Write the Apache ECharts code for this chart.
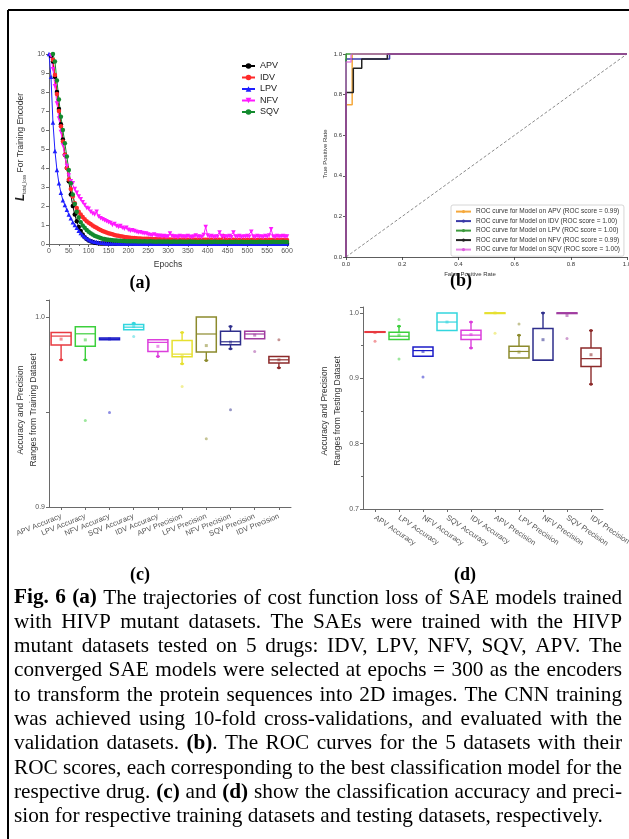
<!DOCTYPE html>
<html><head><meta charset="utf-8">
<script src="https://cdn.jsdelivr.net/npm/echarts@6/dist/echarts.min.js"></script>
<style>html,body{margin:0;padding:0;background:#fff}#c{width:629px;height:839px}</style>
</head><body><div id="c"></div><script>
// ---------- (a) loss trajectories ----------
const epochs = [
0,5,10,15,20,25,30,35,40,45,
50,55,60,65,70,75,80,85,90,95,
100,105,110,115,120,125,130,135,140,145,
150,155,160,165,170,175,180,185,190,195,
200,205,210,215,220,225,230,235,240,245,
250,255,260,265,270,275,280,285,290,295,
300,305,310,315,320,325,330,335,340,345,
350,355,360,365,370,375,380,385,390,395,
400,405,410,415,420,425,430,435,440,445,
450,455,460,465,470,475,480,485,490,495,
500,505,510,515,520,525,530,535,540,545,
550,555,560,565,570,575,580,585,590,595,
600];
const lossAPV = [
10.5,9.9,9.6,8.8,8.0,7.1,6.3,5.5,4.7,4.0,
3.3,2.6,2.0,1.55,1.2,0.9,0.68,0.5,0.36,0.26,
0.19,0.14,0.1,0.07,0.05,0.04,0.03,0.025,0.02,0.02,
0.02,0.018,0.02,0.017,0.018,0.02,0.017,0.018,0.016,0.018,
0.017,0.016,0.018,0.016,0.017,0.016,0.018,0.016,0.016,0.017,
0.016,0.017,0.016,0.015,0.016,0.017,0.015,0.016,0.016,0.015,
0.016,0.015,0.016,0.015,0.015,0.016,0.015,0.015,0.016,0.015,
0.015,0.016,0.015,0.015,0.014,0.015,0.015,0.016,0.015,0.014,
0.015,0.014,0.015,0.015,0.014,0.015,0.014,0.015,0.014,0.014,
0.015,0.014,0.014,0.015,0.014,0.014,0.015,0.014,0.014,0.014,
0.014,0.015,0.014,0.014,0.014,0.013,0.014,0.014,0.013,0.014,
0.014,0.013,0.014,0.014,0.013,0.014,0.013,0.014,0.013,0.013,
0.013];
const lossIDV = [
11,10.2,9.7,8.9,7.9,7.0,6.2,5.4,4.7,4.0,
3.4,2.9,2.5,2.15,1.9,1.7,1.55,1.42,1.3,1.2,
1.12,1.05,0.98,0.91,0.85,0.79,0.74,0.69,0.65,0.61,
0.57,0.54,0.51,0.48,0.45,0.43,0.41,0.39,0.37,0.35,
0.34,0.33,0.32,0.31,0.3,0.29,0.29,0.28,0.28,0.27,
0.27,0.26,0.26,0.25,0.26,0.25,0.25,0.24,0.25,0.24,
0.24,0.24,0.23,0.24,0.23,0.24,0.23,0.23,0.24,0.23,
0.23,0.22,0.23,0.23,0.22,0.23,0.22,0.23,0.22,0.22,
0.23,0.22,0.22,0.23,0.22,0.22,0.22,0.21,0.42,0.22,
0.22,0.21,0.22,0.22,0.21,0.22,0.21,0.22,0.21,0.21,
0.22,0.21,0.21,0.22,0.21,0.21,0.22,0.21,0.21,0.21,
0.21,0.22,0.21,0.21,0.21,0.22,0.21,0.21,0.21,0.21,
0.21];
const lossLPV = [
10,8.8,6.4,4.9,3.9,3.2,2.7,2.3,2.05,1.8,
1.55,1.35,1.15,1.0,0.85,0.7,0.58,0.47,0.38,0.3,
0.24,0.19,0.15,0.12,0.1,0.08,0.07,0.06,0.05,0.045,
0.04,0.04,0.035,0.04,0.035,0.03,0.035,0.03,0.03,0.035,
0.03,0.03,0.035,0.03,0.03,0.025,0.03,0.03,0.025,0.03,
0.03,0.025,0.03,0.03,0.025,0.03,0.025,0.03,0.025,0.025,
0.03,0.025,0.025,0.03,0.025,0.025,0.03,0.025,0.025,0.02,
0.025,0.025,0.02,0.025,0.025,0.02,0.025,0.02,0.025,0.02,
0.025,0.02,0.02,0.025,0.02,0.02,0.025,0.02,0.02,0.02,
0.02,0.025,0.02,0.02,0.02,0.025,0.02,0.02,0.02,0.02,
0.02,0.02,0.025,0.02,0.02,0.02,0.02,0.025,0.02,0.02,
0.02,0.02,0.02,0.025,0.02,0.02,0.02,0.02,0.02,0.025,
0.02];
const lossNFV = [
10.5,9.9,9.2,8.3,7.4,6.6,5.9,5.2,4.6,4.1,
3.6,3.3,3.2,2.9,2.7,2.5,2.35,2.2,2.05,1.9,
1.85,1.7,1.6,1.55,1.7,1.45,1.35,1.3,1.25,1.2,
1.15,1.1,1.0,1.05,0.95,0.9,0.95,0.85,0.8,0.85,
0.75,0.7,0.72,0.68,0.65,0.6,0.62,0.58,0.55,0.55,
0.5,0.48,0.45,0.5,0.45,0.42,0.44,0.4,0.42,0.38,
0.4,0.55,0.42,0.38,0.4,0.36,0.42,0.38,0.4,0.37,
0.42,0.38,0.36,0.4,0.45,0.38,0.4,0.36,0.48,0.9,
0.45,0.38,0.42,0.36,0.4,0.38,0.6,0.42,0.37,0.4,
0.38,0.42,0.36,0.6,0.4,0.38,0.42,0.36,0.4,0.38,
0.42,0.38,0.65,0.4,0.36,0.42,0.38,0.4,0.36,0.42,
0.38,0.45,0.78,0.4,0.36,0.42,0.38,0.4,0.42,0.38,
0.4];
const lossSQV = [
11.5,10.8,10.0,9.6,8.6,7.6,6.7,6.0,5.3,4.6,
3.9,3.2,2.6,2.1,1.7,1.4,1.15,0.98,0.85,0.74,
0.65,0.57,0.5,0.44,0.39,0.35,0.31,0.28,0.26,0.24,
0.22,0.21,0.2,0.19,0.18,0.17,0.17,0.16,0.16,0.15,
0.15,0.14,0.15,0.14,0.14,0.13,0.14,0.13,0.14,0.13,
0.13,0.14,0.13,0.13,0.12,0.13,0.13,0.12,0.13,0.12,
0.13,0.12,0.12,0.13,0.12,0.12,0.13,0.12,0.12,0.12,
0.12,0.13,0.12,0.12,0.12,0.11,0.12,0.12,0.12,0.11,
0.12,0.12,0.11,0.12,0.12,0.11,0.12,0.11,0.12,0.11,
0.11,0.12,0.11,0.11,0.12,0.11,0.11,0.12,0.11,0.11,
0.11,0.11,0.12,0.11,0.11,0.11,0.12,0.11,0.11,0.11,
0.11,0.11,0.11,0.12,0.11,0.11,0.11,0.11,0.12,0.11,
0.11];
const lossNames = ['APV','IDV','LPV','NFV','SQV'];

// ---------- (b) ROC ----------
const rocNames = [
 'ROC curve for Model on APV (ROC score = 0.99)',
 'ROC curve for Model on IDV (ROC score = 1.00)',
 'ROC curve for Model on LPV (ROC score = 1.00)',
 'ROC curve for Model on NFV (ROC score = 0.99)',
 'ROC curve for Model on SQV (ROC score = 1.00)'];
const rocFprAPV = [0,0,0.022,0.022,1];
const rocTprAPV = [0,0.75,0.75,1,1];
const rocFprIDV = [0,0,0.155,0.155,1];
const rocTprIDV = [0,0.975,0.975,1,1];
const rocFprLPV = [0,0,1];
const rocTprLPV = [0,1,1];
const rocFprNFV = [0,0,0.026,0.026,0.056,0.056,0.147,0.147,1];
const rocTprNFV = [0,0.81,0.81,0.93,0.93,0.975,0.975,1,1];
const rocFprSQV = [0,0,0.018,0.018,1];
const rocTprSQV = [0,0.96,0.96,1,1];
const diagFpr = [0,1];
const diagTpr = [0,1];

// ---------- (c)/(d) box plots ----------
const boxCategories = ['APV Accuracy','LPV Accuracy','NFV Accuracy','SQV Accuracy','IDV Accuracy',
  'APV Precision','LPV Precision','NFV Precision','SQV Precision','IDV Precision'];
const trainMin  = [0.9775,0.9775,0.9880,0.9933,0.9793,0.9754,0.9772,0.9833,0.9886,0.9733];
const trainQ1   = [0.9853,0.9846,0.9881,0.9933,0.9819,0.9791,0.9816,0.9854,0.9886,0.9758];
const trainMed  = [0.9900,0.9912,0.9885,0.9947,0.9867,0.9805,0.9911,0.9870,0.9911,0.9775];
const trainQ3   = [0.9919,0.9949,0.9890,0.9961,0.9881,0.9877,1.0000,0.9926,0.9925,0.9793];
const trainMax  = [0.9919,0.9949,0.9890,0.9968,0.9881,0.9919,1.0000,0.9951,0.9925,0.9793];
const trainMean = [0.9884,0.9880,0.9885,0.9950,0.9846,0.9795,0.9850,0.9868,0.9905,0.9775];
const trainOutCat = [1,2,3,5,6,7,8,9];
const trainOutVal = [0.9456,0.9498,0.9898,0.9635,0.9360,0.9512,0.9819,0.9881];

const testMin  = [0.9700,0.9592,0.9337,0.9730,0.9464,1.0000,0.9310,0.9276,0.9990,0.8910];
const testQ1   = [0.9703,0.9592,0.9337,0.9730,0.9592,1.0000,0.9310,0.9276,0.9990,0.9180];
const testMed  = [0.9709,0.9643,0.9423,0.9860,0.9660,1.0000,0.9410,0.9276,1.0000,0.9300];
const testQ3   = [0.9712,0.9704,0.9480,1.0000,0.9735,1.0000,0.9490,0.9760,1.0000,0.9464];
const testMax  = [0.9715,0.9796,0.9480,1.0000,0.9860,1.0000,0.9658,1.0000,1.0000,0.9730];
const testMean = [0.9700,0.9660,0.9410,0.9860,0.9668,1.0000,0.9400,0.9590,0.9960,0.9360];
const testOutCat = [0,1,1,2,5,6,8];
const testOutVal = [0.9566,0.9898,0.9296,0.9020,0.9690,0.9830,0.9610];

const boxColors = ['#e83a40','#3ccf3c','#1c1cc8','#33d6de','#dc3edc','#e6e030','#8c8a2c','#2e2e8c','#a03ca0','#8c2a2a'];

// ---------- caption ----------
const captionLines = [
 '^Fig.^ ^6^ ^(a)^ The trajectories of cost function loss of SAE models trained',
 'with HIVP mutant datasets. The SAEs were trained with the HIVP',
 'mutant datasets tested on 5 drugs: IDV, LPV, NFV, SQV, APV. The',
 'converged SAE models were selected at epochs = 300 as the encoders',
 'to transform the protein sequences into 2D images. The CNN training',
 'was achieved using 10-fold cross-validations, and evaluated with the',
 'validation datasets. ^(b)^. The ROC curves for the 5 datasets with their',
 'ROC scores, each corresponding to the best classification model for the',
 'respective drug. ^(c)^ and ^(d)^ show the classification accuracy and preci-',
 'sion for respective training datasets and testing datasets, respectively.'
];

const SANS = 'Liberation Sans';
const SERIF = 'Liberation Serif';

// ---------- build ----------
const chart = echarts.init(document.getElementById('c'), null, {renderer:'canvas'});

const lossColors = {APV:'#000000', IDV:'#ff2a2a', LPV:'#1f1fff', NFV:'#ff1aff', SQV:'#138a2e'};
const lossSymbols = {APV:'circle', IDV:'circle', LPV:'triangle', NFV:'path://M0,0 L10,0 L5,9 Z', SQV:'circle'};
const lossData = {APV:lossAPV, IDV:lossIDV, LPV:lossLPV, NFV:lossNFV, SQV:lossSQV};
const lossSeries = lossNames.map(n => ({
  type:'line', name:n, xAxisIndex:0, yAxisIndex:0,
  data: epochs.map((e,i)=>[e, lossData[n][i]]),
  symbol: lossSymbols[n], symbolSize: 4.5, showSymbol:true,
  lineStyle:{color:lossColors[n], width:1}, itemStyle:{color:lossColors[n]},
  clip:true
}));

const rocColors = ['#f5a83c','#3a3aa8','#3c9a3c','#222222','#dc5adc'];
const rocF = [rocFprAPV,rocFprIDV,rocFprLPV,rocFprNFV,rocFprSQV];
const rocT = [rocTprAPV,rocTprIDV,rocTprLPV,rocTprNFV,rocTprSQV];
const rocSeries = rocNames.map((n,k)=>({
  type:'line', name:n, xAxisIndex:1, yAxisIndex:1, symbol:'none',
  data: rocF[k].map((f,i)=>[f, rocT[k][i]]),
  lineStyle:{color:rocColors[k], width:1.5, opacity: k===4?0.75:1}, itemStyle:{color:rocColors[k]},
  clip:false
}));
rocSeries.unshift({
  type:'line', name:'diag', xAxisIndex:1, yAxisIndex:1, symbol:'none', silent:true,
  data: diagFpr.map((f,i)=>[f, diagTpr[i]]),
  lineStyle:{color:'#8a8a8a', width:1, type:[3,2]}
});

function makeBoxRender(colors){
  return function(params, api){
    const c = api.value(0);
    const col = colors[c];
    const P = v => api.coord([c, v]);
    const x = P(api.value(3))[0];
    const yMin = P(api.value(1))[1], yQ1 = P(api.value(2))[1], yMed = P(api.value(3))[1],
          yQ3 = P(api.value(4))[1], yMax = P(api.value(5))[1];
    const hw = 10;
    const ch = [];
    const st = {stroke:col, lineWidth:1.4};
    if (yQ3 - yMax > 0.8) {
      ch.push({type:'line', shape:{x1:x,y1:yQ3,x2:x,y2:yMax}, style:st});
      ch.push({type:'line', shape:{x1:x-2,y1:yMax,x2:x+2,y2:yMax}, style:st});
      ch.push({type:'circle', shape:{cx:x, cy:yMax, r:1.5}, style:{fill:col}});
    }
    if (yMin - yQ1 > 0.8) {
      ch.push({type:'line', shape:{x1:x,y1:yQ1,x2:x,y2:yMin}, style:st});
      ch.push({type:'line', shape:{x1:x-2,y1:yMin,x2:x+2,y2:yMin}, style:st});
      ch.push({type:'circle', shape:{cx:x, cy:yMin, r:1.5}, style:{fill:col}});
    }
    ch.push({type:'rect', shape:{x:x-hw, y:yQ3, width:2*hw, height:Math.max(yQ1-yQ3, 0.6)},
             style:{stroke:col, lineWidth:1.5, fill:'rgba(255,255,255,0)'}});
    ch.push({type:'line', shape:{x1:x-hw,y1:yMed,x2:x+hw,y2:yMed}, style:{stroke:col, lineWidth:1.2}});
    return {type:'group', children:ch};
  };
}

function boxSeries(ax, mins, q1, med, q3, max, means, outCat, outVal){
  return [
    {type:'custom', xAxisIndex:ax, yAxisIndex:ax, renderItem: makeBoxRender(boxColors),
     data: boxCategories.map((c,i)=>[i, mins[i], q1[i], med[i], q3[i], max[i]]),
     encode:{x:0, y:[1,2,3,4,5]}},
    {type:'scatter', xAxisIndex:ax, yAxisIndex:ax, symbol:'rect', symbolSize:3,
     data: boxCategories.map((c,i)=>[i, means[i]]),
     itemStyle:{color: p => boxColors[p.data[0]], opacity:0.55}},
    {type:'scatter', xAxisIndex:ax, yAxisIndex:ax, symbol:'circle', symbolSize:3,
     data: outCat.map((c,k)=>[c, outVal[k]]),
     itemStyle:{color: p => boxColors[p.data[0]], opacity:0.5}}
  ];
}

const originAxis = (extra) => Object.assign({
  axisLine:{show:true, lineStyle:{color:'#6a6a6a', width:1}},
  axisTick:{show:true, length:3, lineStyle:{color:'#6a6a6a'}},
  axisLabel:{fontSize:7, color:'#555', fontFamily:SANS, margin:4},
  splitLine:{show:false}
}, extra);

// caption layout via text measurement
const mctx = document.createElement('canvas').getContext('2d');
function mw(t, b, s){ mctx.font = (b?'bold ':'') + s + 'px "' + SERIF + '"'; return mctx.measureText(t).width; }
function parseWord(w){ return w.split('^').map((t,i)=>({t, b:i%2===1})).filter(p=>p.t.length); }
function wordWidth(w, s){ return parseWord(w).reduce((a,p)=>a+mw(p.t,p.b,s),0); }
const capLeft = 14, capRight = 622, capTop = 598, capLH = 24.3;
const lastWords = captionLines[captionLines.length-1].split(' ');
const w100 = lastWords.reduce((a,w)=>a+wordWidth(w,100),0) + (lastWords.length-1)*mw(' ',false,100);
const capSize = 100 * 589 / w100;
const capGraphics = [];
captionLines.forEach((line, li) => {
  const words = line.split(' ');
  const ws = words.map(w=>wordWidth(w, capSize));
  const sum = ws.reduce((a,b)=>a+b,0);
  const gap = (li < captionLines.length-1) ? (capRight-capLeft-sum)/(words.length-1) : mw(' ',false,capSize);
  let x = capLeft;
  const y = capTop + li*capLH;
  words.forEach((w,wi) => {
    parseWord(w).forEach(p => {
      capGraphics.push({type:'text', x:x, y:y, silent:true,
        style:{text:p.t, fontFamily:SERIF, fontSize:capSize, fontWeight:p.b?'bold':'normal', fill:'#000', align:'left', verticalAlign:'middle'}});
      x += mw(p.t, p.b, capSize);
    });
    x += gap;
  });
});

const panelLabel = (t, x, y) => ({type:'text', x, y, silent:true,
  style:{text:t, fontFamily:SERIF, fontSize:18, fontWeight:'bold', fill:'#000', align:'center', verticalAlign:'middle'}});
const rotTitle = (t, x, y, size, lh) => ({type:'text', x, y, rotation:Math.PI/2, silent:true,
  style:{text:t, fontFamily:SANS, fontSize:size, lineHeight:lh||size*1.2, fill:'#333', align:'center', verticalAlign:'middle'}});
const plainTitle = (t, x, y, size) => ({type:'text', x, y, silent:true,
  style:{text:t, fontFamily:SANS, fontSize:size, fill:'#333', align:'center', verticalAlign:'middle'}});

const option = {
  animation:false,
  backgroundColor:'#fff',
  grid:[
    {left:49, top:54, width:238, height:190, outerBoundsMode:'none', containLabel:false},
    {left:346, top:54, width:281, height:203, outerBoundsMode:'none', containLabel:false},
    {left:49, top:300, width:242, height:207, outerBoundsMode:'none', containLabel:false},
    {left:363, top:307, width:240, height:202, outerBoundsMode:'none', containLabel:false}
  ],
  xAxis:[
    originAxis({type:'value', gridIndex:0, min:0, max:600, interval:50,
      minorTick:{show:true, splitNumber:2, length:2, lineStyle:{color:'#6a6a6a'}}}),
    {type:'value', gridIndex:1, min:0, max:1, interval:0.2,
      axisLine:{show:true, lineStyle:{color:'#333', width:0.8}},
      axisTick:{length:3, lineStyle:{color:'#333', width:0.8}},
      axisLabel:{fontSize:6, color:'#333', fontFamily:SANS, margin:4, formatter:v=>v.toFixed(1)},
      splitLine:{show:false}},
    originAxis({type:'category', gridIndex:2, data:boxCategories, boundaryGap:true,
      axisTick:{show:true, alignWithLabel:true, length:3, lineStyle:{color:'#6a6a6a'}},
      axisLabel:{interval:0, rotate:22, fontSize:7.5, color:'#555', fontFamily:SANS, margin:9}}),
    originAxis({type:'category', gridIndex:3, data:boxCategories, boundaryGap:true,
      axisTick:{show:true, alignWithLabel:true, length:3, lineStyle:{color:'#6a6a6a'}},
      axisLabel:{interval:0, rotate:-34, fontSize:7.5, color:'#555', fontFamily:SANS, margin:8}})
  ],
  yAxis:[
    originAxis({type:'value', gridIndex:0, min:0, max:10, interval:1}),
    {type:'value', gridIndex:1, min:0, max:1, interval:0.2,
      axisLine:{show:true, lineStyle:{color:'#333', width:0.8}},
      axisTick:{show:true, length:3, lineStyle:{color:'#333', width:0.8}},
      axisLabel:{fontSize:6, color:'#333', fontFamily:SANS, margin:4, formatter:v=>v.toFixed(1)},
      splitLine:{show:false}},
    originAxis({type:'value', gridIndex:2, min:0.9, max:1.009, interval:0.05,
      axisLabel:{fontSize:7, color:'#555', fontFamily:SANS, margin:4,
        formatter:v=>{const r=Math.round(v*10)/10; return Math.abs(v-r)<1e-6 ? r.toFixed(1) : '';}}}),
    originAxis({type:'value', gridIndex:3, min:0.7, max:1.009, interval:0.1,
      minorTick:{show:true, splitNumber:2, length:2, lineStyle:{color:'#6a6a6a'}},
      axisLabel:{fontSize:7, color:'#555', fontFamily:SANS, margin:4,
        formatter:v=>{const r=Math.round(v*10)/10; return Math.abs(v-r)<1e-6 ? r.toFixed(1) : '';}}})
  ],
  legend:[
    {data:lossNames, orient:'vertical', left:236, top:56, itemWidth:13, itemHeight:7, itemGap:1.5,
     textStyle:{fontSize:9, color:'#222', fontFamily:SANS, lineHeight:10}, selectedMode:false},
    {data:rocNames, orient:'vertical', left:451, top:205, itemWidth:15, itemHeight:4, itemGap:2.3,
     padding:[3,4,3,4], backgroundColor:'#fff', borderColor:'#ccc', borderWidth:0.8, borderRadius:2,
     textStyle:{fontSize:6.5, color:'#333', fontFamily:SANS, lineHeight:7.2}, selectedMode:false}
  ],
  series: [].concat(
    lossSeries,
    rocSeries,
    boxSeries(2, trainMin, trainQ1, trainMed, trainQ3, trainMax, trainMean, trainOutCat, trainOutVal),
    boxSeries(3, testMin, testQ1, testMed, testQ3, testMax, testMean, testOutCat, testOutVal)
  ),
  graphic: [
    {type:'line', silent:true, shape:{x1:8, y1:10, x2:629, y2:10}, style:{stroke:'#000', lineWidth:2}},
    {type:'line', silent:true, shape:{x1:8, y1:10, x2:8, y2:839}, style:{stroke:'#000', lineWidth:2}},
    panelLabel('(a)', 140, 283),
    panelLabel('(b)', 461, 281),
    panelLabel('(c)', 140, 575),
    panelLabel('(d)', 465, 575),
    {type:'text', x:21, y:147, rotation:Math.PI/2, silent:true,
     style:{text:'{L|L}{s|total_loss} For Training Encoder', fontFamily:SANS, fontSize:8.5, fill:'#333',
       align:'center', verticalAlign:'middle',
       rich:{L:{fontSize:12, fontWeight:'bold', fontStyle:'italic', fontFamily:SANS, fill:'#222'},
             s:{fontSize:4.5, fontFamily:SANS, fill:'#333', verticalAlign:'bottom'}}}},
    plainTitle('Epochs', 168, 265, 8.5),
    rotTitle('True Positive Rate', 325, 154, 6),
    plainTitle('False Positive Rate', 470, 274, 6),
    rotTitle('Accuracy and Precision\nRanges from Training Dataset', 27, 410, 8.5, 13),
    rotTitle('Accuracy and Precision\nRanges from Testing Dataset', 331, 411, 8.5, 13)
  ].concat(capGraphics)
};
chart.setOption(option);
</script></body></html>
